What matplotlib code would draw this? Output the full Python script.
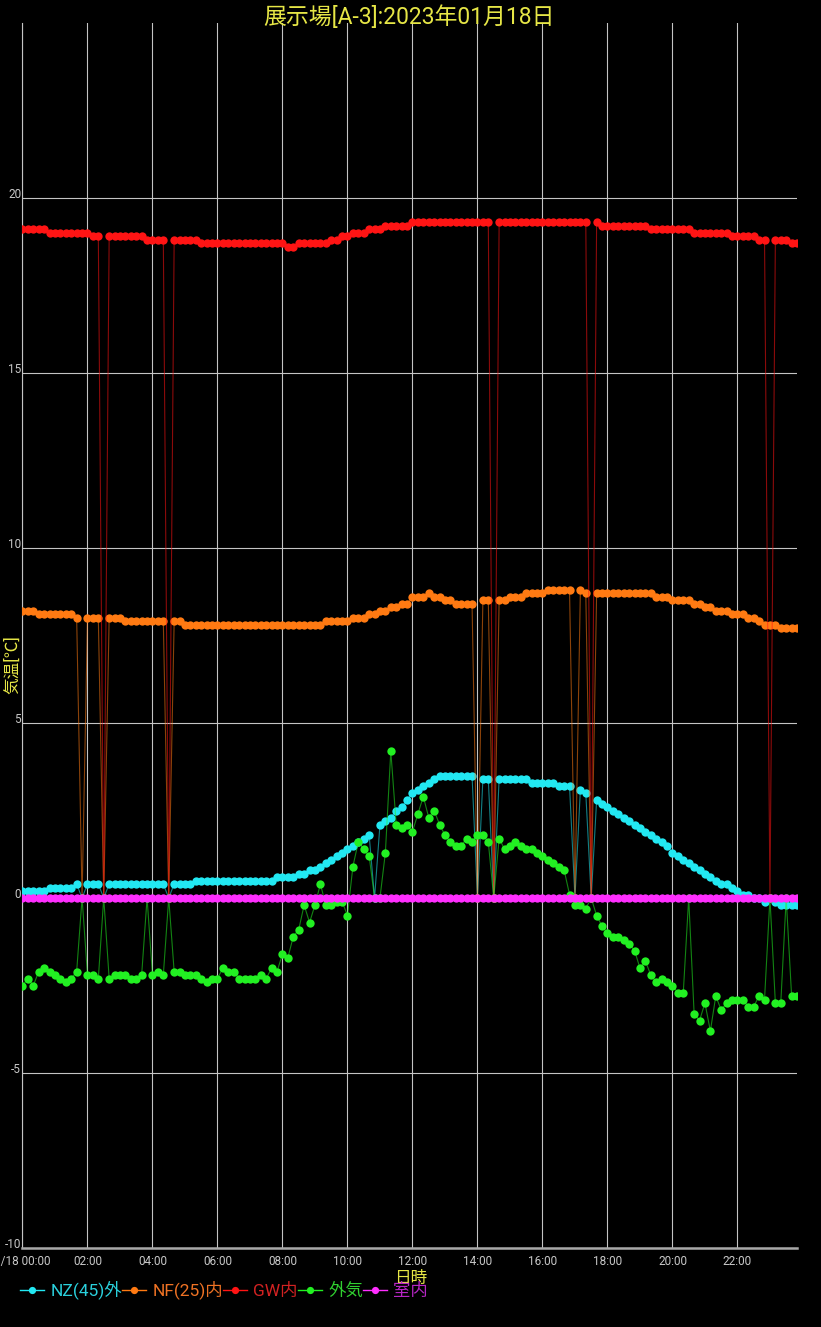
import numpy as np
import pandas as pd
import matplotlib
matplotlib.use("Agg")
import matplotlib.pyplot as plt
from matplotlib.lines import Line2D

plt.rcParams['font.family'] = ['Roboto', 'Noto Sans CJK JP', 'DejaVu Sans']

title = "展示場[A-3]:2023年01月18日"
# 10 minute samples, 00:00 - 23:50
times = pd.date_range("2023-01-18 00:00", periods=144, freq="10min")

# NZ(45)外
nz45_out = [
    0.2, 0.2, 0.2, 0.2, 0.2, 0.3, 0.3, 0.3, 0.3, 0.3, 0.4, 0,
    0.4, 0.4, 0.4, 0, 0.4, 0.4, 0.4, 0.4, 0.4, 0.4, 0.4, 0.4,
    0.4, 0.4, 0.4, 0, 0.4, 0.4, 0.4, 0.4, 0.5, 0.5, 0.5, 0.5,
    0.5, 0.5, 0.5, 0.5, 0.5, 0.5, 0.5, 0.5, 0.5, 0.5, 0.5, 0.6,
    0.6, 0.6, 0.6, 0.7, 0.7, 0.8, 0.8, 0.9, 1.0, 1.1, 1.2, 1.3,
    1.4, 1.5, 1.6, 1.7, 1.8, 0, 2.1, 2.2, 2.3, 2.5, 2.6, 2.8,
    3.0, 3.1, 3.2, 3.3, 3.4, 3.5, 3.5, 3.5, 3.5, 3.5, 3.5, 3.5,
    0, 3.4, 3.4, 0, 3.4, 3.4, 3.4, 3.4, 3.4, 3.4, 3.3, 3.3,
    3.3, 3.3, 3.3, 3.2, 3.2, 3.2, 0, 3.1, 3.0, 0, 2.8, 2.7,
    2.6, 2.5, 2.4, 2.3, 2.2, 2.1, 2.0, 1.9, 1.8, 1.7, 1.6, 1.5,
    1.3, 1.2, 1.1, 1.0, 0.9, 0.8, 0.7, 0.6, 0.5, 0.4, 0.4, 0.3,
    0.2, 0.1, 0.1, 0.0, 0.0, -0.1, 0, -0.1, -0.2, -0.2, -0.2, -0.2,
]

# NF(25)内
nf25_in = [
    8.2, 8.2, 8.2, 8.1, 8.1, 8.1, 8.1, 8.1, 8.1, 8.1, 8.0, 0,
    8.0, 8.0, 8.0, 0, 8.0, 8.0, 8.0, 7.9, 7.9, 7.9, 7.9, 7.9,
    7.9, 7.9, 7.9, 0, 7.9, 7.9, 7.8, 7.8, 7.8, 7.8, 7.8, 7.8,
    7.8, 7.8, 7.8, 7.8, 7.8, 7.8, 7.8, 7.8, 7.8, 7.8, 7.8, 7.8,
    7.8, 7.8, 7.8, 7.8, 7.8, 7.8, 7.8, 7.8, 7.9, 7.9, 7.9, 7.9,
    7.9, 8.0, 8.0, 8.0, 8.1, 8.1, 8.2, 8.2, 8.3, 8.3, 8.4, 8.4,
    8.6, 8.6, 8.6, 8.7, 8.6, 8.6, 8.5, 8.5, 8.4, 8.4, 8.4, 8.4,
    0, 8.5, 8.5, 0, 8.5, 8.5, 8.6, 8.6, 8.6, 8.7, 8.7, 8.7,
    8.7, 8.8, 8.8, 8.8, 8.8, 8.8, 0, 8.8, 8.7, 0, 8.7, 8.7,
    8.7, 8.7, 8.7, 8.7, 8.7, 8.7, 8.7, 8.7, 8.7, 8.6, 8.6, 8.6,
    8.5, 8.5, 8.5, 8.5, 8.4, 8.4, 8.3, 8.3, 8.2, 8.2, 8.2, 8.1,
    8.1, 8.1, 8.0, 8.0, 7.9, 7.8, 7.8, 7.8, 7.7, 7.7, 7.7, 7.7,
]

# GW内
gw_in = [
    19.1, 19.1, 19.1, 19.1, 19.1, 19.0, 19.0, 19.0, 19.0, 19.0, 19.0, 19.0,
    19.0, 18.9, 18.9, 0, 18.9, 18.9, 18.9, 18.9, 18.9, 18.9, 18.9, 18.8,
    18.8, 18.8, 18.8, 0, 18.8, 18.8, 18.8, 18.8, 18.8, 18.7, 18.7, 18.7,
    18.7, 18.7, 18.7, 18.7, 18.7, 18.7, 18.7, 18.7, 18.7, 18.7, 18.7, 18.7,
    18.7, 18.6, 18.6, 18.7, 18.7, 18.7, 18.7, 18.7, 18.7, 18.8, 18.8, 18.9,
    18.9, 19.0, 19.0, 19.0, 19.1, 19.1, 19.1, 19.2, 19.2, 19.2, 19.2, 19.2,
    19.3, 19.3, 19.3, 19.3, 19.3, 19.3, 19.3, 19.3, 19.3, 19.3, 19.3, 19.3,
    19.3, 19.3, 19.3, 0, 19.3, 19.3, 19.3, 19.3, 19.3, 19.3, 19.3, 19.3,
    19.3, 19.3, 19.3, 19.3, 19.3, 19.3, 19.3, 19.3, 19.3, 0, 19.3, 19.2,
    19.2, 19.2, 19.2, 19.2, 19.2, 19.2, 19.2, 19.2, 19.1, 19.1, 19.1, 19.1,
    19.1, 19.1, 19.1, 19.1, 19.0, 19.0, 19.0, 19.0, 19.0, 19.0, 19.0, 18.9,
    18.9, 18.9, 18.9, 18.9, 18.8, 18.8, 0, 18.8, 18.8, 18.8, 18.7, 18.7,
]

# 外気
outside = [
    -2.5, -2.3, -2.5, -2.1, -2.0, -2.1, -2.2, -2.3, -2.4, -2.3, -2.1, 0,
    -2.2, -2.2, -2.3, 0, -2.3, -2.2, -2.2, -2.2, -2.3, -2.3, -2.2, 0,
    -2.2, -2.1, -2.2, 0, -2.1, -2.1, -2.2, -2.2, -2.2, -2.3, -2.4, -2.3,
    -2.3, -2.0, -2.1, -2.1, -2.3, -2.3, -2.3, -2.3, -2.2, -2.3, -2.0, -2.1,
    -1.6, -1.7, -1.1, -0.9, -0.2, -0.7, -0.2, 0.4, -0.2, -0.2, -0.1, -0.1,
    -0.5, 0.9, 1.6, 1.4, 1.2, 0, 0, 1.3, 4.2, 2.1, 2.0, 2.1,
    1.9, 2.4, 2.9, 2.3, 2.5, 2.1, 1.8, 1.6, 1.5, 1.5, 1.7, 1.6,
    1.8, 1.8, 1.6, 0, 1.7, 1.4, 1.5, 1.6, 1.5, 1.4, 1.4, 1.3,
    1.2, 1.1, 1.0, 0.9, 0.8, 0.1, -0.2, -0.2, -0.3, 0, -0.5, -0.8,
    -1.0, -1.1, -1.1, -1.2, -1.3, -1.5, -2.0, -1.8, -2.2, -2.4, -2.3, -2.4,
    -2.5, -2.7, -2.7, 0, -3.3, -3.5, -3.0, -3.8, -2.8, -3.2, -3.0, -2.9,
    -2.9, -2.9, -3.1, -3.1, -2.8, -2.9, 0, -3.0, -3.0, 0, -2.8, -2.8,
]

# 室内 (no reading, logged as 0)
indoor = [
    0, 0, 0, 0, 0, 0, 0, 0, 0, 0, 0, 0,
    0, 0, 0, 0, 0, 0, 0, 0, 0, 0, 0, 0,
    0, 0, 0, 0, 0, 0, 0, 0, 0, 0, 0, 0,
    0, 0, 0, 0, 0, 0, 0, 0, 0, 0, 0, 0,
    0, 0, 0, 0, 0, 0, 0, 0, 0, 0, 0, 0,
    0, 0, 0, 0, 0, 0, 0, 0, 0, 0, 0, 0,
    0, 0, 0, 0, 0, 0, 0, 0, 0, 0, 0, 0,
    0, 0, 0, 0, 0, 0, 0, 0, 0, 0, 0, 0,
    0, 0, 0, 0, 0, 0, 0, 0, 0, 0, 0, 0,
    0, 0, 0, 0, 0, 0, 0, 0, 0, 0, 0, 0,
    0, 0, 0, 0, 0, 0, 0, 0, 0, 0, 0, 0,
    0, 0, 0, 0, 0, 0, 0, 0, 0, 0, 0, 0,
]

series_names = ["NZ(45)外", "NF(25)内", "GW内", "外気", "室内"]
series_values = [nz45_out, nf25_in, gw_in, outside, indoor]
marker_colors = ["#22e8f2", "#ff7a12", "#ff1414", "#22f022", "#ff2eff"]
text_colors = ["#2ad0dc", "#ee7224", "#d22222", "#30d030", "#b626c4"]

xtick_times = pd.date_range("2023-01-18 00:00", periods=12, freq="2h")
xtick_labels = ["1/18 00:00", "02:00", "04:00", "06:00", "08:00", "10:00",
                "12:00", "14:00", "16:00", "18:00", "20:00", "22:00"]
ytick_values = [-10, -5, 0, 5, 10, 15, 20]
ytick_labels = ["-10", "-5", "0", "5", "10", "15", "20"]

yellow = "#e6e646"
grid_c = "#c4c4c4"

fig = plt.figure(figsize=(8.21, 13.27), dpi=100, facecolor="black")
ax = fig.add_axes([0.0274, 0.0595, 0.9434, 0.9232])
ax.set_facecolor("black")

for vals, c in zip(series_values, marker_colors):
    ax.plot(times, vals, color=c, lw=0.8, alpha=0.55, zorder=3)
    ax.plot(times, vals, "o", color=c, ms=6, mec="none", zorder=3)

ax.set_xlim(times[0], times[-1])
ax.set_ylim(-10, 25)
ax.set_xticks(xtick_times)
ax.set_xticklabels(xtick_labels)
ax.set_yticks(ytick_values)
ax.set_yticklabels(ytick_labels, va="baseline")
ax.tick_params(length=0, colors="#c8c8c8", labelsize=8.5)
ax.tick_params(axis="x", pad=5)
ax.tick_params(axis="y", pad=1)
ax.grid(True, color=grid_c, lw=0.8, zorder=1)
ax.set_axisbelow(True)

for s in ["top", "right"]:
    ax.spines[s].set_visible(False)
ax.spines["left"].set_color(grid_c)
ax.spines["left"].set_linewidth(0.8)
ax.spines["bottom"].set_color("#a8a8a8")
ax.spines["bottom"].set_linewidth(1.8)

fig.text(0.4988, 1 - 17 / 1327, title, ha="center", va="center",
         color=yellow, fontsize=16.5)
fig.text(12 / 821, 1 - 665 / 1327, "気温[℃]", rotation=90, ha="center",
         va="center", color=yellow, fontsize=12)
fig.text(411 / 821, 1 - 1278 / 1327, "日時", ha="center", va="center",
         color=yellow, fontsize=12)

handles = [Line2D([], [], color=c, lw=1, marker="o", ms=5.2, mec="none")
           for c in marker_colors]
fig.legend(handles, series_names, loc="center left",
           bbox_to_anchor=(20 / 821, 1 - 1290 / 1327), ncol=5, frameon=False,
           fontsize=12.5, handlelength=1.4, handletextpad=0.35,
           columnspacing=0.0, borderaxespad=0, borderpad=0,
           labelcolor=text_colors)

fig.savefig("out.png", dpi=100, facecolor="black")
